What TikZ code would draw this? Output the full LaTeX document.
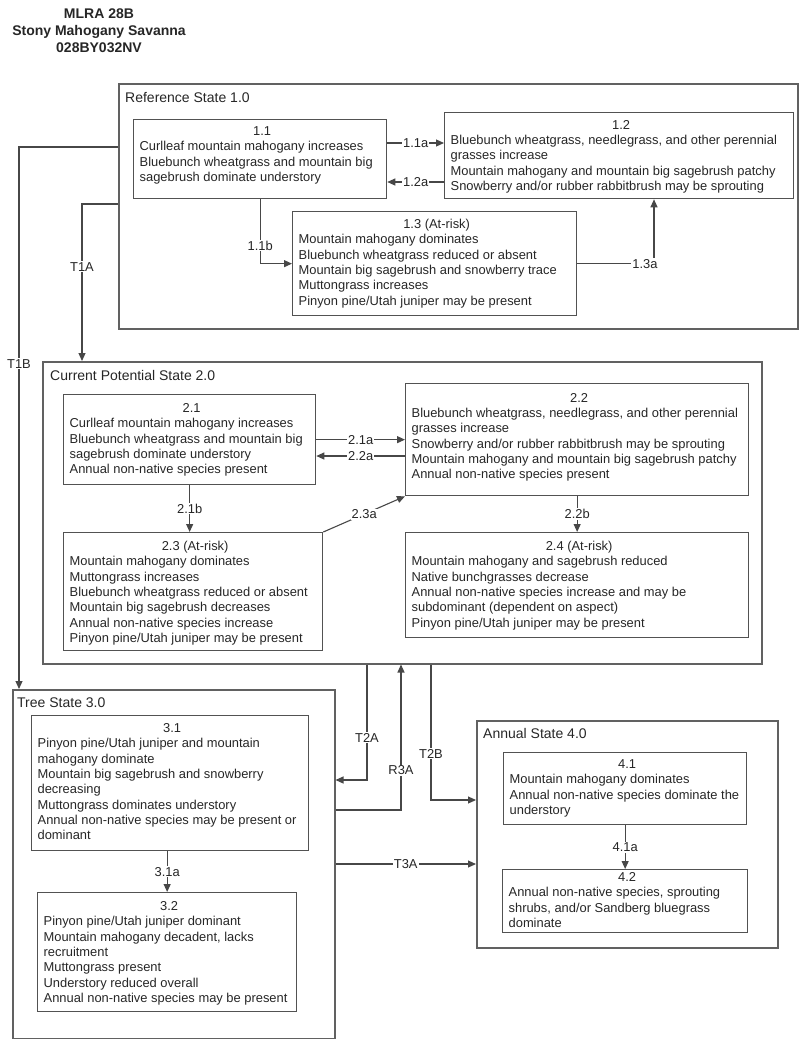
\documentclass[tikz,border=0pt]{standalone}
\usepackage{fontspec}
\setmainfont{Liberation Sans}
\usetikzlibrary{arrows.meta,calc}
\newcommand\bfnt{\fontsize{12.9pt}{15.3pt}\selectfont}
\newcommand\sfnt{\fontsize{14pt}{16pt}\selectfont}
\newcommand\bx[5]{\hspace*{6pt}\parbox[c][#2pt][t]{\dimexpr#1pt-8pt\relax}{\makebox[\linewidth]{\rule{0pt}{#3pt}#4}\par\raggedright #5\par}\hspace*{2pt}}
\begin{document}
\begin{tikzpicture}[x=1pt,y=-1pt,
  st/.style={draw=black!62,line width=1.5pt,inner sep=0,anchor=north west},
  cb/.style={draw=black!68,line width=1.3pt,inner sep=0,anchor=north west,font=\bfnt,text=black!85},
  sl/.style={anchor=base west,inner sep=0,font=\sfnt,text=black!85},
  arr/.style={draw=black!72,line width=1.1pt,-{Triangle[length=8pt,width=7pt]}},
  lbl/.style={fill=white,inner sep=1pt,font=\bfnt,text=black!85}]
\useasboundingbox (0,0) rectangle (800,1039);

\node[font=\bfseries\fontsize{14pt}{16.7pt}\selectfont,align=center,anchor=north,inner sep=0,text=black!85] (title) at (99,9) {MLRA 28B\\Stony Mahogany Savanna\\028BY032NV};

% state boxes
\node[st,minimum width=679pt,minimum height=245pt] (s1) at (118,83) {};
\node[st,minimum width=719pt,minimum height=302pt] (s2) at (42,361) {};
\node[st,minimum width=322pt,minimum height=349pt] (s3) at (12,689) {};
\node[st,minimum width=301pt,minimum height=227pt] (s4) at (476,720) {};

\node[sl] (l1) at (125,102) {Reference State 1.0};
\node[sl] (l2) at (50,380) {Current Potential State 2.0};
\node[sl] (l3) at (17,707) {Tree State 3.0};
\node[sl] (l4) at (483,738) {Annual State 4.0};

% community boxes
\node[cb] (b11) at (133,119) {\bx{253}{79}{16}{1.1}{Curlleaf mountain mahogany increases\\Bluebunch wheatgrass and mountain big\\sagebrush dominate understory}};
\node[cb] (b12) at (444,112) {\bx{349}{86}{16.5}{1.2}{Bluebunch wheatgrass, needlegrass, and other perennial\\grasses increase\\Mountain mahogany and mountain big sagebrush patchy\\Snowberry and/or rubber rabbitbrush may be sprouting}};
\node[cb] (b13) at (292,211) {\bx{284}{104}{17}{1.3 (At-risk)}{Mountain mahogany dominates\\Bluebunch wheatgrass reduced or absent\\Mountain big sagebrush and snowberry trace\\Muttongrass increases\\Pinyon pine/Utah juniper may be present}};

\node[cb] (b21) at (63,394) {\bx{252}{90}{18}{2.1}{Curlleaf mountain mahogany increases\\Bluebunch wheatgrass and mountain big\\sagebrush dominate understory\\Annual non-native species present}};
\node[cb] (b22) at (405,383) {\bx{343}{112}{18.5}{2.2}{Bluebunch wheatgrass, needlegrass, and other perennial\\grasses increase\\Snowberry and/or rubber rabbitbrush may be sprouting\\Mountain mahogany and mountain big sagebrush patchy\\Annual non-native species present}};
\node[cb] (b23) at (63,532) {\bx{259}{118}{18}{2.3 (At-risk)}{Mountain mahogany dominates\\Muttongrass increases\\Bluebunch wheatgrass reduced or absent\\Mountain big sagebrush decreases\\Annual non-native species increase\\Pinyon pine/Utah juniper may be present}};
\node[cb] (b24) at (405,532) {\bx{343}{105}{18}{2.4 (At-risk)}{Mountain mahogany and sagebrush reduced\\Native bunchgrasses decrease\\Annual non-native species increase and may be\\subdominant (dependent on aspect)\\Pinyon pine/Utah juniper may be present}};

\node[cb] (b31) at (31,715) {\bx{277}{135}{17}{3.1}{Pinyon pine/Utah juniper and mountain\\mahogany dominate\\Mountain big sagebrush and snowberry\\decreasing\\Muttongrass dominates understory\\Annual non-native species may be present or\\dominant}};
\node[cb] (b32) at (37,892) {\bx{259}{119}{18}{3.2}{Pinyon pine/Utah juniper dominant\\Mountain mahogany decadent, lacks\\recruitment\\Muttongrass present\\Understory reduced overall\\Annual non-native species may be present}};

\node[cb] (b41) at (503,752) {\bx{243}{72}{16}{4.1}{Mountain mahogany dominates\\Annual non-native species dominate the\\understory}};
\node[cb] (b42) at (502,869) {\bx{245}{63}{12}{4.2}{Annual non-native species, sprouting\\shrubs, and/or Sandberg bluegrass\\dominate}};

% connectors within states
\draw[arr] ($(b11.north east)+(0,24)$) coordinate (a1) -- (a1 -| b12.west) node[midway,lbl]{1.1a};
\draw[arr] ($(b12.north west)+(0,70)$) coordinate (a2) -- (a2 -| b11.east) node[midway,lbl]{1.2a};
\draw[arr] (b11.south) |- (b13.west) node[pos=0.36,lbl]{1.1b};
\draw[arr] (b13.east) -| ($(b12.south west)+(210,0)$) node[pos=0.5,lbl,xshift=-9pt]{1.3a};

\draw[arr] (b21.east) -- (b22.west) node[midway,lbl]{2.1a};
\draw[arr] ($(b22.north west)+(0,73)$) coordinate (a3) -- (a3 -| b21.east) node[midway,lbl]{2.2a};
\draw[arr] (b21.south) -- (b21.south |- b23.north) node[midway,lbl]{2.1b};
\draw[arr] (b23.north east) -- (b22.south west) node[midway,lbl]{2.3a};
\draw[arr] (b22.south) -- (b24.north) node[midway,lbl]{2.2b};

\draw[arr] (b32.north |- b31.south) -- (b32.north) node[midway,lbl]{3.1a};
\draw[arr] (b41.south) -- (b42.north) node[midway,lbl]{4.1a};

% transitions between states
\draw[arr] ($(s1.north west)+(0,121)$) -| ($(s2.north west)+(40,0)$) node[pos=0.7,lbl]{T1A};
\draw[arr] ($(s1.north west)+(0,64)$) -| ($(s3.north west)+(7,0)$) node[pos=0.7,lbl]{T1B};
\draw[arr] ($(s2.south west)+(325,0)$) |- ($(s3.north east)+(0,91)$) node[pos=0.316,lbl]{T2A};
\draw[arr] ($(s3.north east)+(0,121)$) -| ($(s2.south west)+(359,0)$) node[pos=0.636,lbl]{R3A};
\draw[arr] ($(s2.south west)+(389,0)$) |- ($(s4.north west)+(0,80)$) node[pos=0.33,lbl]{T2B};
\draw[arr] ($(s3.north east)+(0,175)$) coordinate (a4) -- (a4 -| s4.west) node[midway,lbl]{T3A};
\end{tikzpicture}
\end{document}
